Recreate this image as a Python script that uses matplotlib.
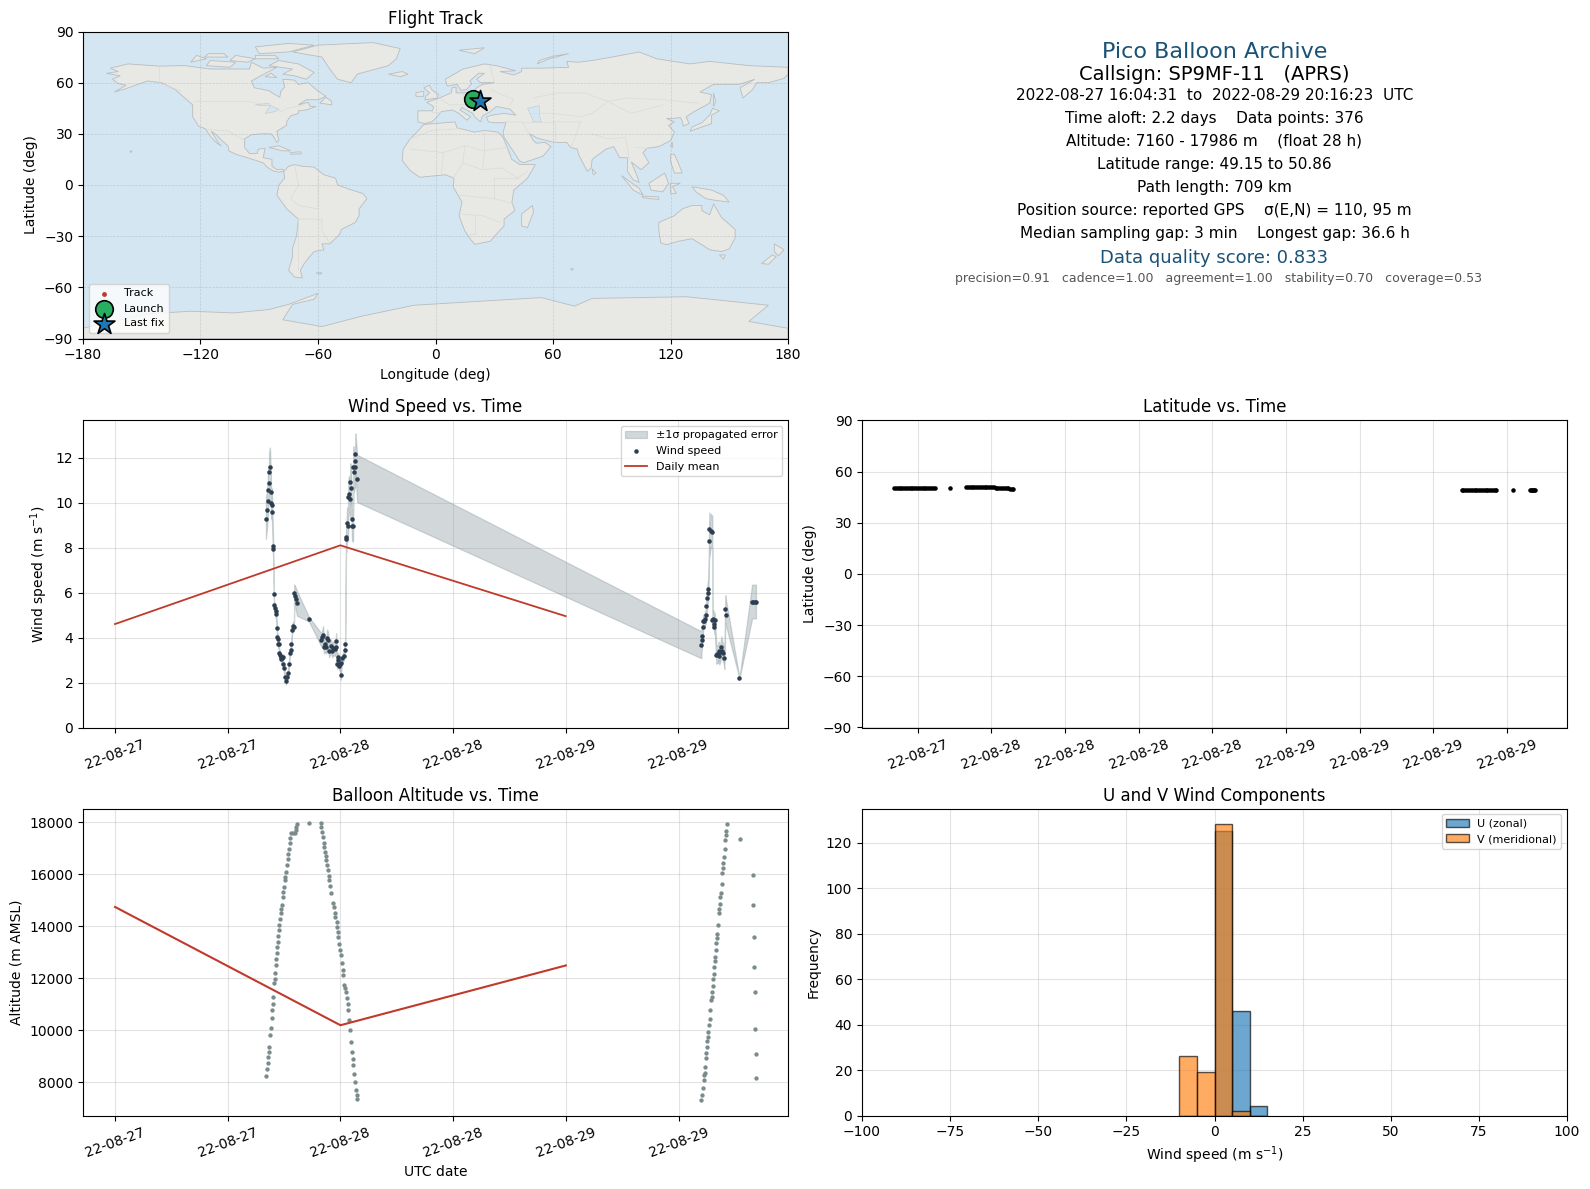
import matplotlib
matplotlib.use("Agg")
import matplotlib.pyplot as plt
import matplotlib.dates as mdates
from datetime import datetime

W, H = 1590, 1189

# hours after 2022-08-27 00:00 (first leg) and after 2022-08-28 00:00 (second leg)
wind_h1 = [16.07, 16.18, 16.26, 16.30, 16.39, 16.41, 16.50, 16.60, 16.62, 16.71,
           16.73, 16.82, 16.84, 16.92, 16.94, 17.03, 17.10, 17.14, 17.24, 17.28,
           17.35, 17.39, 17.46, 17.48, 17.57, 17.67, 17.71, 17.78, 17.89, 17.91,
           17.99, 18.10, 18.21, 18.31, 18.42, 18.53, 18.60, 18.70, 18.78, 18.85,
           18.95, 19.06, 19.08, 19.17, 19.27, 19.38, 20.66, 21.98, 22.09, 22.16,
           22.26, 22.37, 22.51, 22.58, 22.69, 22.80, 22.98, 23.15, 23.23, 23.40,
           23.51, 23.55, 23.65, 23.76, 23.80, 23.87, 23.94, 24.04, 24.12, 24.22,
           24.36, 24.47, 24.51, 24.61, 24.63, 24.72, 24.83, 24.85, 24.93, 25.04,
           25.06, 25.15, 25.22, 25.24, 25.36, 25.38, 25.43, 25.57, 25.59, 25.61,
           25.79]
wind_v1 = [9.29, 9.69, 10.09, 10.58, 10.89, 11.38, 11.60, 10.49, 10.00, 9.91,
           9.60, 8.09, 7.92, 5.92, 5.43, 5.30, 5.16, 5.03, 4.41, 4.01,
           3.92, 3.70, 3.70, 3.30, 3.21, 3.12, 3.03, 3.08, 3.12, 2.81,
           2.63, 2.26, 2.05, 2.26, 2.41, 2.81, 3.30, 3.45, 3.70, 4.33,
           4.51, 4.48, 5.96, 5.84, 5.70, 5.52, 4.81, 3.89, 4.01, 4.11,
           3.59, 3.71, 3.59, 3.96, 3.89, 3.42, 3.62, 3.42, 3.52, 3.48,
           3.59, 3.85, 2.81, 3.12, 3.00, 2.74, 2.81, 2.32, 2.85, 3.08,
           3.18, 3.45, 3.71, 8.48, 8.40, 9.10, 8.98, 10.25, 10.40, 10.14,
           10.90, 10.67, 9.29, 8.98, 8.98, 11.60, 11.36, 11.60, 11.85, 12.18,
           11.07]
wind_s1 = [.90, .85, .85, .85, .85, .85, .85, .80, .70, .70,
           .60, .50, .40, .20, .20, .20, .20, .20, .20, .20,
           .20, .20, .20, .20, .15, .15, .15, .15, .15, .15,
           .15, .15, .15, .15, .15, .15, .15, .15, .15, .20,
           .20, .20, .40, .45, .50, .55, .10, .30, .35, .40,
           .30, .35, .30, .40, .35, .30, .30, .30, .30, .30,
           .30, .35, .20, .20, .20, .20, .20, .20, .20, .20,
           .20, .20, .20, .60, .60, .70, .70, .80, .80, .80,
           .85, .85, .70, .70, .70, .90, .90, .90, .90, .90,
           1.05]

wind_h2 = [38.45, 38.47, 38.56, 38.63, 38.65, 38.73, 38.84, 38.95, 38.98, 39.09,
           39.13, 39.20, 39.30, 39.32, 39.45, 39.62, 39.63, 39.73, 39.84, 39.85,
           39.87, 40.05, 40.16, 40.27, 40.29, 40.37, 40.48, 40.59, 40.69, 40.80,
           40.91, 41.01, 41.12, 42.51, 43.86, 44.00, 44.14, 44.27]
wind_v2 = [3.68, 3.91, 4.08, 4.49, 4.72, 4.72, 4.84, 4.99, 5.42, 5.77,
           6.00, 6.18, 8.81, 8.30, 8.75, 8.71, 4.80, 4.84, 4.61, 4.49,
           4.76, 3.23, 3.27, 3.27, 3.42, 3.20, 3.35, 3.60, 3.42, 3.30,
           3.10, 5.28, 5.02, 2.20, 5.60, 5.60, 5.60, 5.60]
wind_s2 = [.60, .55, .40, .30, .30, .30, .30, .30, .40, .45,
           .45, .50, .75, .70, .75, .70, .40, .40, .35, .35,
           .35, .40, .40, .40, .40, .40, .40, .45, .40, .40,
           .50, .60, .55, .02, .75, .75, .75, .75]

alt_h1 = [16.07, 16.18, 16.26, 16.30, 16.39, 16.41, 16.50, 16.60, 16.67, 16.71,
          16.82, 16.84, 16.92, 17.03, 17.05, 17.14, 17.16, 17.24, 17.26, 17.35,
          17.37, 17.46, 17.48, 17.60, 17.62, 17.71, 17.73, 17.89, 17.92, 18.03,
          18.06, 18.10, 18.21, 18.31, 18.42, 18.44, 18.53, 18.63, 18.65, 18.78,
          18.95, 19.13, 19.24, 19.31, 19.38, 20.66, 21.94, 21.98, 22.05, 22.16,
          22.23, 22.26, 22.37, 22.44, 22.51, 22.58, 22.69, 22.76, 22.80, 22.94,
          23.01, 23.23, 23.30, 23.40, 23.47, 23.58, 23.62, 23.69, 23.76, 23.87,
          23.94, 24.01, 24.12, 24.22, 24.29, 24.40, 24.51, 24.58, 24.65, 24.76,
          24.83, 24.93, 25.04, 25.15, 25.25, 25.29, 25.36, 25.47, 25.57, 25.61,
          25.72, 25.79]
alt_v1 = [8257, 8500, 8731, 8962, 9154, 9372, 9808, 10077, 10462, 10782,
          11013, 11269, 11808, 11962, 12192, 12513, 12731, 12962, 13192, 13385,
          13628, 13859, 14038, 14269, 14500, 14654, 14808, 15115, 15333, 15500,
          15782, 15885, 16103, 16359, 16577, 16782, 16987, 17192, 17385, 17577,
          17577, 17603, 17705, 17833, 17923, 17986, 17962, 17808, 17641, 17423,
          17192, 17038, 16872, 16705, 16551, 16359, 16167, 15936, 15782, 15551,
          15295, 14885, 14731, 14500, 14372, 14179, 13987, 13795, 13603, 13308,
          13090, 12897, 12603, 12321, 12128, 11744, 11615, 11487, 11231, 11013,
          10782, 10398, 10013, 9564, 9180, 8885, 8667, 8308, 8026, 7705,
          7513, 7346]

alt_h2 = [38.40, 38.46, 38.56, 38.67, 38.68, 38.78, 38.79, 38.88, 38.90, 38.99,
          39.00, 39.10, 39.12, 39.20, 39.31, 39.33, 39.42, 39.52, 39.54, 39.63,
          39.65, 39.74, 39.76, 39.84, 39.86, 39.95, 39.97, 40.06, 40.08, 40.16,
          40.27, 40.29, 40.38, 40.40, 40.48, 40.59, 40.61, 40.70, 40.72, 40.80,
          40.91, 40.93, 41.02, 41.04, 41.12, 42.51, 43.90, 43.92, 44.00, 44.02,
          44.11, 44.13, 44.22, 44.24]
alt_v2 = [7320, 7500, 7770, 8077, 8270, 8372, 8577, 8923, 9116, 9346,
          9577, 9731, 9923, 10192, 10423, 10769, 11154, 11295, 11462, 11692,
          11962, 12154, 12423, 12654, 12808, 13077, 13346, 13538, 13692, 14038,
          14500, 14654, 14846, 15115, 15269, 15615, 16038, 16231, 16423, 16654,
          16962, 17308, 17500, 17654, 17923, 17346, 15962, 14808, 13577, 12423,
          11462, 10038, 9077, 8154]

lat_h1 = [16.07, 16.22, 16.37, 16.52, 16.67, 16.82, 16.97, 17.12, 17.27, 17.42,
          17.57, 17.72, 17.87, 18.02, 18.17, 18.32, 18.47, 18.62, 18.77, 18.92,
          19.07, 19.22, 19.38, 20.66, 21.94, 22.09, 22.24, 22.39, 22.54, 22.69,
          22.84, 22.99, 23.14, 23.29, 23.44, 23.59, 23.74, 23.89, 24.04, 24.19,
          24.34, 24.49, 24.64, 24.79, 24.94, 25.09, 25.24, 25.39, 25.54, 25.69,
          25.79]
lat_v1 = [50.45, 50.42, 50.40, 50.38, 50.36, 50.34, 50.32, 50.30, 50.30, 50.28,
          50.28, 50.27, 50.26, 50.25, 50.25, 50.24, 50.24, 50.23, 50.23, 50.22,
          50.22, 50.21, 50.20, 50.55, 50.75, 50.78, 50.80, 50.82, 50.84, 50.85,
          50.86, 50.86, 50.85, 50.84, 50.83, 50.82, 50.80, 50.78, 50.76, 50.72,
          50.68, 50.64, 50.60, 50.52, 50.44, 50.36, 50.28, 50.20, 50.10, 50.02,
          49.98]
lat_h2 = [38.30, 38.45, 38.60, 38.75, 38.90, 39.05, 39.20, 39.35, 39.50, 39.65,
          39.80, 39.95, 40.10, 40.25, 40.40, 40.55, 40.70, 40.85, 41.00, 41.12,
          42.45, 43.90, 43.98, 44.06, 44.14, 44.22, 44.27]
lat_v2 = [49.42, 49.40, 49.38, 49.36, 49.35, 49.33, 49.32, 49.30, 49.29, 49.28,
          49.27, 49.26, 49.25, 49.24, 49.24, 49.23, 49.22, 49.22, 49.21, 49.20,
          49.18, 49.17, 49.16, 49.16, 49.15, 49.15, 49.15]

daily_h = [0, 24, 48]
daily_wind = [4.60, 8.10, 4.95]
daily_alt = [14750, 10200, 12500]

hist_left = [-10, -5, 0, 5, 10]
u_counts = [0, 0, 125, 46, 4]
v_counts = [26, 19, 128, 2, 0]

track_lon = [19.2, 19.8, 20.6, 21.3, 22.0, 22.5]
track_lat = [50.4, 50.6, 50.9, 50.2, 49.4, 49.15]

info_lines = ["2022-08-27 16:04:31  to  2022-08-29 20:16:23  UTC",
              "Time aloft: 2.2 days    Data points: 376",
              "Altitude: 7160 - 17986 m    (float 28 h)",
              "Latitude range: 49.15 to 50.86",
              "Path length: 709 km",
              "Position source: reported GPS    \u03c3(E,N) = 110, 95 m",
              "Median sampling gap: 3 min    Longest gap: 36.6 h"]
info_y = [95, 118.5, 141, 164, 187.5, 211, 233.5]

# rough land outlines, lon/lat
north_america = [(-168, 65.5), (-162, 66.5), (-166, 68.5), (-157, 71), (-141, 69.7), (-128, 70), (-115, 68), (-108, 68),
                 (-95, 68), (-94, 72), (-88, 68.5), (-81, 69), (-86, 66), (-94, 61), (-92.5, 57), (-85, 55.3), (-82, 53),
                 (-79.5, 51.5), (-79, 55), (-77, 57.5), (-78, 62), (-72, 61.5), (-70, 59), (-65, 60), (-61, 56), (-56, 52),
                 (-60, 50), (-66, 50), (-70, 47), (-65, 48.5), (-64, 46), (-61, 46), (-66, 44), (-70, 43.5), (-70, 42),
                 (-74, 40.5), (-76, 37), (-76, 35), (-81, 31.5), (-80, 26), (-81, 25), (-82.5, 28), (-84, 30), (-89, 30),
                 (-94, 29.5), (-97.5, 27), (-97.5, 22), (-95, 18.5), (-91, 18.5), (-90.5, 21), (-87, 21.5), (-88, 16),
                 (-83.5, 15), (-83.5, 11), (-81, 9), (-78, 9.3), (-77.5, 8), (-80, 7.5), (-83, 8.3), (-86, 10.5), (-88, 13),
                 (-92, 14.5), (-96, 16), (-102, 18), (-105.5, 20), (-106, 23), (-109, 26), (-112.5, 30), (-114.5, 31.5),
                 (-110.5, 24), (-109.5, 23), (-112, 25), (-115, 28.5), (-117.5, 33), (-121, 34.5), (-124, 40), (-124, 47),
                 (-128, 51), (-133, 56), (-140, 60), (-147, 61), (-152, 59), (-158, 56.5), (-164, 54.5), (-158, 58.5),
                 (-162, 59.5), (-165, 62), (-161, 64)]
south_america = [(-77.5, 8), (-75, 11), (-72, 12), (-68, 11), (-62, 10.5), (-57, 6), (-51, 4), (-50, 0), (-44, -2.5), (-37, -5),
                 (-35, -8), (-39, -14), (-39, -18), (-41, -22), (-48, -26), (-49, -29), (-54, -34.5), (-58, -34.5), (-57, -38),
                 (-62, -39), (-65, -43), (-67, -46), (-69, -50), (-68, -54.5), (-72, -54), (-75, -50), (-73, -42), (-73, -37),
                 (-71, -30), (-70, -20), (-76, -14), (-81, -6), (-80, 0), (-77, 4)]
africa = [(-6, 35.5), (10, 37), (11, 33.5), (20, 31), (25, 32), (32, 31), (34.5, 28), (37, 21), (39, 15), (43, 12), (51, 12),
          (47, 4), (40, -3), (39, -10), (40.5, -15), (35, -20), (35, -24), (32.5, -27), (28, -33), (20, -34.8), (18, -32),
          (15, -27), (12, -18), (13.5, -10), (9, -1), (9.5, 4), (5, 6), (-4, 5), (-8, 4.5), (-13, 8.5), (-17, 14.5),
          (-16.5, 21), (-13, 27), (-9.5, 31)]
eurasia = [(-9, 37), (-9, 43.5), (-1.5, 43.5), (-1, 46), (-4.5, 48.5), (2, 51), (8, 54), (8.5, 57), (10.5, 57.5), (10.5, 54),
           (14, 54), (19, 54.5), (21, 57), (24, 59), (30, 60), (23, 60), (21, 62), (25, 65.5), (22, 65.5), (17.5, 61),
           (18.5, 59.5), (16, 56), (13, 55.5), (11, 59), (6, 58), (5, 62), (14, 68), (25, 71), (31, 70), (41, 67), (33, 66.5),
           (40, 64.5), (44, 66.5), (44, 68.5), (54, 68.5), (68, 69), (67, 72.5), (73, 72), (80, 73), (90, 75), (104, 78),
           (113, 74), (130, 71), (140, 72.5), (160, 70), (170, 69.5), (180, 69), (180, 65), (178, 62.5), (170, 60), (164, 60),
           (162, 56), (157, 51), (155.5, 57), (163, 62), (155, 59), (142, 59), (135, 54.5), (141, 53), (140, 48), (132, 43),
           (128, 40), (129.5, 36), (126.5, 34.5), (126, 37.5), (125, 39.5), (121, 39), (118, 39), (122, 37), (119, 35),
           (122, 31), (120, 26), (114, 22.5), (108, 21.5), (106, 19), (109, 13), (105, 9), (100, 13.5), (103, 5), (104, 1.5),
           (101, 3), (98, 8), (98, 16), (94, 16), (91, 22.5), (87, 21), (80, 15), (79.5, 10), (77.5, 8), (73, 18), (72.5, 21),
           (69, 22), (67, 25), (61, 25), (57, 26), (52, 27.5), (48, 30), (50, 26), (51.5, 24.5), (56, 25), (59, 22.5), (55, 17),
           (45, 13), (43, 14), (39, 21), (35, 28), (34.5, 31), (36, 36.5), (30, 36.5), (27, 37), (26, 40), (29, 41), (35, 42),
           (41, 41), (38, 44.5), (31, 46), (28, 43), (24, 40.5), (23, 37), (20, 40), (19, 42), (13.5, 45.5), (12.5, 44),
           (18, 40), (16, 38), (12, 42), (8.5, 44), (3, 43), (0, 39), (-2, 37), (-5.5, 36)]
australia = [(114, -22), (122, -18), (126, -14), (131, -12), (136, -12), (136, -15), (140, -17.5), (142, -11), (146, -19),
             (153, -26), (153, -31), (150, -37.5), (146, -39), (140, -38), (136, -35), (131, -31.5), (124, -33), (118, -35),
             (115, -34), (114, -26)]
antarctica = [(-180, -84), (-165, -80), (-146, -75.5), (-125, -74), (-103, -75), (-85, -73), (-75, -70), (-60, -63.5),
              (-62, -67), (-73, -70), (-78, -79), (-58, -83), (-38, -77), (-11, -70.5), (54, -66), (71, -71), (80, -66.5),
              (128, -65.5), (170, -70.5), (160, -80), (180, -84), (180, -90), (-180, -90)]
greenland = [(-73, 78), (-60, 82), (-32, 83.5), (-18, 80), (-20, 74), (-24, 70), (-40, 65), (-43, 60), (-50, 62), (-54, 68), (-58, 75)]
baffin = [(-80, 73), (-70, 71), (-62, 66), (-66, 62), (-72, 64), (-78, 65), (-73, 68), (-85, 70)]
victoria = [(-117, 70), (-105, 69), (-102, 72), (-115, 73)]
ellesmere = [(-90, 77), (-75, 78), (-62, 82), (-75, 83), (-92, 81)]
banks = [(-125, 72), (-117, 74), (-122, 76)]
devon = [(-92, 74), (-80, 74), (-82, 76), (-92, 76)]
somerset = [(-105, 73), (-96, 72), (-92, 74), (-102, 76)]
melville = [(-118, 75), (-106, 75), (-108, 77), (-116, 77)]
southampton = [(-87, 63.5), (-81, 63), (-84, 65.5)]
newfoundland = [(-59, 48), (-53, 47), (-53, 49), (-56, 51.5)]
iceland = [(-24, 65), (-18, 63.5), (-14, 65), (-17, 66.5)]
cuba = [(-85, 22), (-80, 23), (-74, 20), (-78, 20)]
hispaniola = [(-74, 19), (-69, 19.5), (-68.5, 18.3), (-74, 18)]
hawaii = [(-156, 20.2), (-155, 19.6), (-155.7, 19)]
falklands = [(-61, -51.5), (-58, -51.5), (-59, -52.3)]
kerguelen = [(69, -49), (70.5, -49.2), (69.5, -50)]
madagascar = [(49.5, -12), (50, -16), (47, -25), (44, -24), (44, -17)]
britain = [(-5.5, 50), (1, 51), (1.5, 53), (-2, 56), (-3, 58.5), (-6, 57), (-3, 54), (-5, 52)]
ireland = [(-10, 52), (-6, 52), (-6, 55), (-10, 54)]
japan = [(130, 31.5), (136, 34), (141, 36), (141, 41), (145, 43.5), (141.5, 45), (140, 41), (136, 36.5), (131, 34)]
sakhalin = [(142, 54), (143, 49), (142, 46)]
sumatra = [(95, 5.5), (104, -2), (106, -6), (101, -3)]
borneo = [(109, 1), (117, 7), (119, 1), (116, -4), (110, -3)]
java = [(105.5, -6.5), (114, -7), (114, -8.5), (106, -7.5)]
sulawesi = [(120, 1), (125, 1), (121, -1), (123, -5), (120, -5)]
new_guinea = [(131, -1), (141, -3), (147, -6), (150, -10), (143, -9), (138, -8), (133, -4)]
philippines = [(120, 18), (122, 18), (124, 13), (126, 7), (122, 7), (120, 14)]
sri_lanka = [(80, 9.5), (82, 7), (80.5, 6)]
taiwan = [(121, 25), (121, 22), (120, 23)]
tasmania = [(145, -41), (148, -41), (147, -43.5)]
nz_north = [(173, -34.5), (178, -38), (175, -41.5), (173, -39)]
nz_south = [(172, -41), (174, -42), (170, -46.5), (166.5, -46)]
svalbard = [(12, 79), (25, 80.5), (20, 77)]
novaya = [(52, 71), (58, 74), (68, 77), (60, 75.5), (53, 73)]
land = [north_america, south_america, africa, eurasia, australia, antarctica, greenland, baffin, victoria, ellesmere, banks,
        devon, somerset, melville, southampton, newfoundland, iceland, cuba, hispaniola, hawaii, falklands, kerguelen, madagascar,
        britain, ireland, japan, sakhalin, sumatra, borneo, java, sulawesi, new_guinea, philippines, sri_lanka, taiwan, tasmania,
        nz_north, nz_south, svalbard, novaya]

caspian = [(47, 45), (53, 46.5), (53, 41), (54, 37), (50, 37), (49, 40)]
great_lakes = [(-92, 47), (-85, 48), (-84.5, 46), (-87, 42), (-82, 43), (-80, 44.5), (-84, 46.5), (-88, 46.5)]
water = [caspian, great_lakes]

borders = [[(-141, 69.7), (-141, 60), (-130, 55)], [(-123, 49), (-95, 49), (-83, 46), (-79, 43), (-75, 45), (-67, 47)],
           [(-117, 32.5), (-106, 31.7), (-97, 26)], [(-70, -20), (-58, -20), (-58, -27), (-54, -34)],
           [(-72, 12), (-70, 0), (-74, -8), (-70, -12), (-60, -14), (-60, 5)], [(-70, -20), (-70, -50)],
           [(-13, 27), (-2, 32), (12, 33)], [(-13, 21), (4, 19), (15, 23), (25, 20), (36, 22)], [(25, 32), (25, 20), (24, 9), (34, 10)],
           [(4, 19), (3, 6)], [(15, 23), (14, 13), (9, 4)], [(14, 13), (24, 9)], [(12, -6), (30, -8), (40, -11)],
           [(12, -17), (24, -18), (33, -22)], [(34, 10), (42, 4), (47, 8)], [(30, -8), (30, 4), (42, 4)], [(20, -18), (20, -29), (17, -29)],
           [(35, 37), (44, 37), (48, 30)], [(44, 37), (61, 37), (61, 25)], [(61, 37), (74, 37), (71, 27), (69, 22)],
           [(48, 42), (60, 42), (74, 40), (80, 42), (88, 49)], [(50, 51), (62, 54), (76, 54), (88, 49), (98, 51), (116, 50), (134, 48)],
           [(88, 49), (100, 42), (116, 47)], [(80, 30), (88, 27), (97, 28), (99, 15)], [(102, 22), (108, 21.5)], [(28, 70), (30, 60)],
           [(28, 56), (40, 50), (38, 47)], [(14, 54), (15, 47), (7, 47), (2, 51)], [(-2, 43), (3, 43)], [(24, 54), (23, 48), (28, 45)]]


def make_ax(left, top, right, bottom):
    return fig.add_axes([left / W, 1 - bottom / H, (right - left) / W, (bottom - top) / H])


def to_date(hours, day):
    return [mdates.date2num(datetime(2022, 8, day)) + h / 24 for h in hours]


fig = plt.figure(figsize=(W / 100, H / 100), dpi=100)

# flight track
ax1 = make_ax(83, 31.5, 788, 338.5)
ax1.set_facecolor("#d4e6f2")
for poly in land:
    ax1.fill([p[0] for p in poly], [p[1] for p in poly], facecolor="#e8e8e4",
             edgecolor="#b9bdbf", linewidth=0.6, zorder=1)
for poly in water:
    ax1.fill([p[0] for p in poly], [p[1] for p in poly], facecolor="#d4e6f2",
             edgecolor="#c4c8ca", linewidth=0.4, zorder=1.2)
for line in borders:
    ax1.plot([p[0] for p in line], [p[1] for p in line], color="#dadad6", lw=0.5, zorder=1.5)
ax1.scatter(track_lon, track_lat, s=6, c="#c0392b", label="Track", zorder=3)
ax1.scatter(track_lon[0], track_lat[0], s=160, c="#27ae60", edgecolors="k", linewidths=1.2, label="Launch", zorder=4)
ax1.scatter(track_lon[-1], track_lat[-1], s=250, c="#1f77b4", edgecolors="k", linewidths=1.2, marker="*", label="Last fix", zorder=5)
ax1.set_xlim(-180, 180)
ax1.set_ylim(-90, 90)
ax1.set_xticks(range(-180, 181, 60))
ax1.set_yticks(range(-90, 91, 30))
ax1.grid(True, color="#9aa5ad", alpha=0.4, lw=0.5, ls="--", zorder=2)
ax1.set_title("Flight Track", pad=5.5)
ax1.set_xlabel("Longitude (deg)")
ax1.set_ylabel("Latitude (deg)")
ax1.legend(loc="lower left", fontsize=8, labelspacing=0.45)

# summary text
cx = 1214.5 / W
fig.text(cx, 1 - 52 / H, "Pico Balloon Archive", ha="center", va="center", fontsize=16, color="#1a5276")
fig.text(cx, 1 - 74.5 / H, "Callsign: SP9MF-11   (APRS)", ha="center", va="center", fontsize=14)
for txt, y in zip(info_lines, info_y):
    fig.text(cx, 1 - y / H, txt, ha="center", va="center", fontsize=11)
fig.text(cx, 1 - 258 / H, "Data quality score: 0.833", ha="center", va="center", fontsize=13, color="#1a5276")
fig.text(1218.5 / W, 1 - 279 / H, "precision=0.91   cadence=1.00   agreement=1.00   stability=0.70   coverage=0.53",
         ha="center", va="center", fontsize=9, color="#555555")

t_wind = to_date(wind_h1, 27) + to_date(wind_h2, 28)
v_wind = wind_v1 + wind_v2
s_wind = wind_s1 + wind_s2
low = [v - s for v, s in zip(v_wind, s_wind)]
high = [v + s for v, s in zip(v_wind, s_wind)]
t_alt = to_date(alt_h1, 27) + to_date(alt_h2, 28)
v_alt = alt_v1 + alt_v2
t_lat = to_date(lat_h1, 27) + to_date(lat_h2, 28)
v_lat = lat_v1 + lat_v2
t_day = to_date(daily_h, 27)

# wind speed
ax3 = make_ax(83, 420.5, 788, 727.5)
ax3.fill_between(t_wind, low, high, color="#8a9a9e", alpha=0.38, linewidth=0.9, label="\u00b11\u03c3 propagated error")
ax3.scatter(t_wind, v_wind, s=5, c="#2c3e50", label="Wind speed", zorder=3)
ax3.plot(t_day, daily_wind, color="#c0392b", lw=1.3, label="Daily mean")
ax3.set_ylim(0, 13.65)
ax3.set_title("Wind Speed vs. Time")
ax3.set_ylabel("Wind speed (m s$^{-1}$)")
ax3.legend(loc="upper right", fontsize=8)

# latitude
ax4 = make_ax(862, 420.5, 1567, 727.5)
ax4.scatter(t_lat, v_lat, s=5, c="k")
ax4.set_ylim(-90, 90)
ax4.set_yticks(range(-90, 91, 30))
ax4.set_title("Latitude vs. Time")
ax4.set_ylabel("Latitude (deg)")

# altitude
ax5 = make_ax(83, 808.5, 788, 1115.5)
ax5.scatter(t_alt, v_alt, s=4.5, c="#7b8b8c")
ax5.plot(t_day, daily_alt, color="#c0392b", lw=1.5)
ax5.set_ylim(6727, 18538)
ax5.set_title("Balloon Altitude vs. Time", pad=5.5)
ax5.set_xlabel("UTC date")
ax5.set_ylabel("Altitude (m AMSL)")

for ax, hours in ((ax3, [0, 12]), (ax4, [0, 6, 12, 18]), (ax5, [0, 12])):
    ax.xaxis_date()
    ax.xaxis.set_major_locator(mdates.HourLocator(byhour=hours))
    ax.xaxis.set_major_formatter(mdates.DateFormatter("%y-%m-%d"))
    ax.tick_params(axis="x", labelrotation=20)
    ax.grid(True, color="#b0b0b0", alpha=0.35)
    ax.set_axisbelow(True)

# wind components
ax6 = make_ax(862, 808.5, 1567, 1115.5)
ax6.bar(hist_left, u_counts, width=5, align="edge", color="#1f77b4", alpha=0.65, edgecolor="k", label="U (zonal)")
ax6.bar(hist_left, v_counts, width=5, align="edge", color="#ff7f0e", alpha=0.65, edgecolor="k", label="V (meridional)")
ax6.set_xlim(-100, 100)
ax6.set_ylim(0, 135)
ax6.grid(True, color="#b0b0b0", alpha=0.35)
ax6.set_axisbelow(True)
ax6.set_title("U and V Wind Components", pad=5.5)
ax6.set_xlabel("Wind speed (m s$^{-1}$)")
ax6.set_ylabel("Frequency")
ax6.legend(loc="upper right", fontsize=8)

fig.savefig("out.png", dpi=100)
